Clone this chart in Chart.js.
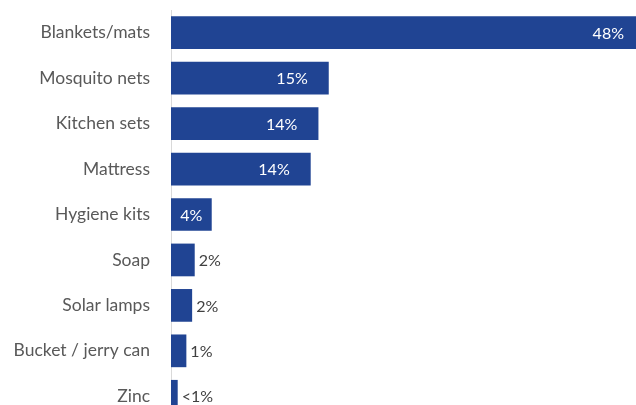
<!DOCTYPE html>
<html>
<head>
<meta charset="utf-8">
<script src="https://cdn.jsdelivr.net/npm/chart.js@4"></script>
<style>
  html, body { margin: 0; padding: 0; background: #fff; overflow: hidden; }
  #wrap { position: relative; width: 636px; height: 419px; }
</style>
</head>
<body>
<div id="wrap"><canvas id="items"></canvas></div>
<script>
// share of households receiving each item (%)
var categories = [
  "Blankets/mats",
  "Mosquito nets",
  "Kitchen sets",
  "Mattress",
  "Hygiene kits",
  "Soap",
  "Solar lamps",
  "Bucket / jerry can",
  "Zinc",
];
var shares = [48, 15.3, 14.3, 13.55, 3.95, 2.3, 2.05, 1.49, 0.65];

var barColor = "#204493";

function pct(v) {
  return v < 1 ? "<1%" : Math.round(v) + "%";
}

// value labels: white inside the long bars, grey just past the short ones
var barLabels = {
  id: "barLabels",
  afterDatasetsDraw: function (chart) {
    var ctx = chart.ctx;
    var area = chart.chartArea;
    var meta = chart.getDatasetMeta(0);
    ctx.save();
    ctx.font = "16px Lato";
    ctx.textBaseline = "middle";
    meta.data.forEach(function (bar, i) {
      var v = shares[i];
      var text = pct(v);
      var w = ctx.measureText(text).width;
      if (v >= 3) {
        var end = Math.min(bar.x, area.right);
        var pad = bar.x > area.right ? 12 : 21;
        pad = Math.min(pad, (end - bar.base - w) / 2);
        ctx.fillStyle = "#ffffff";
        ctx.textAlign = "right";
        ctx.fillText(text, end - pad, bar.y + 1);
      } else {
        ctx.fillStyle = "#404040";
        ctx.textAlign = "left";
        ctx.fillText(text, bar.x + 4, bar.y + 1);
      }
    });
    ctx.restore();
  },
};

var chart = new Chart(document.getElementById("items"), {
  type: "bar",
  data: {
    labels: categories,
    datasets: [
      {
        data: shares,
        backgroundColor: barColor,
        categoryPercentage: 1,
        barPercentage: 0.72,
      },
    ],
  },
  options: {
    indexAxis: "y",
    responsive: true,
    maintainAspectRatio: false,
    animation: false,
    layout: {
      padding: { top: 10, right: 0, bottom: 0, left: 0 },
    },
    plugins: {
      legend: { display: false },
      tooltip: { enabled: false },
    },
    scales: {
      x: {
        min: 0,
        max: 45.1,
        display: false,
      },
      y: {
        afterFit: function (scale) {
          // fixed gutter for the names, no extra room above/below
          scale.width = 171;
          scale.paddingTop = 0;
          scale.paddingBottom = 0;
        },
        grid: { display: false, drawTicks: false },
        border: { display: true, color: "#d9d9d9", width: 1 },
        ticks: {
          padding: 21,
          color: "#595959",
          font: { family: "Lato", size: 17.5 },
        },
      },
    },
  },
  plugins: [barLabels],
});
</script>
</body>
</html>
